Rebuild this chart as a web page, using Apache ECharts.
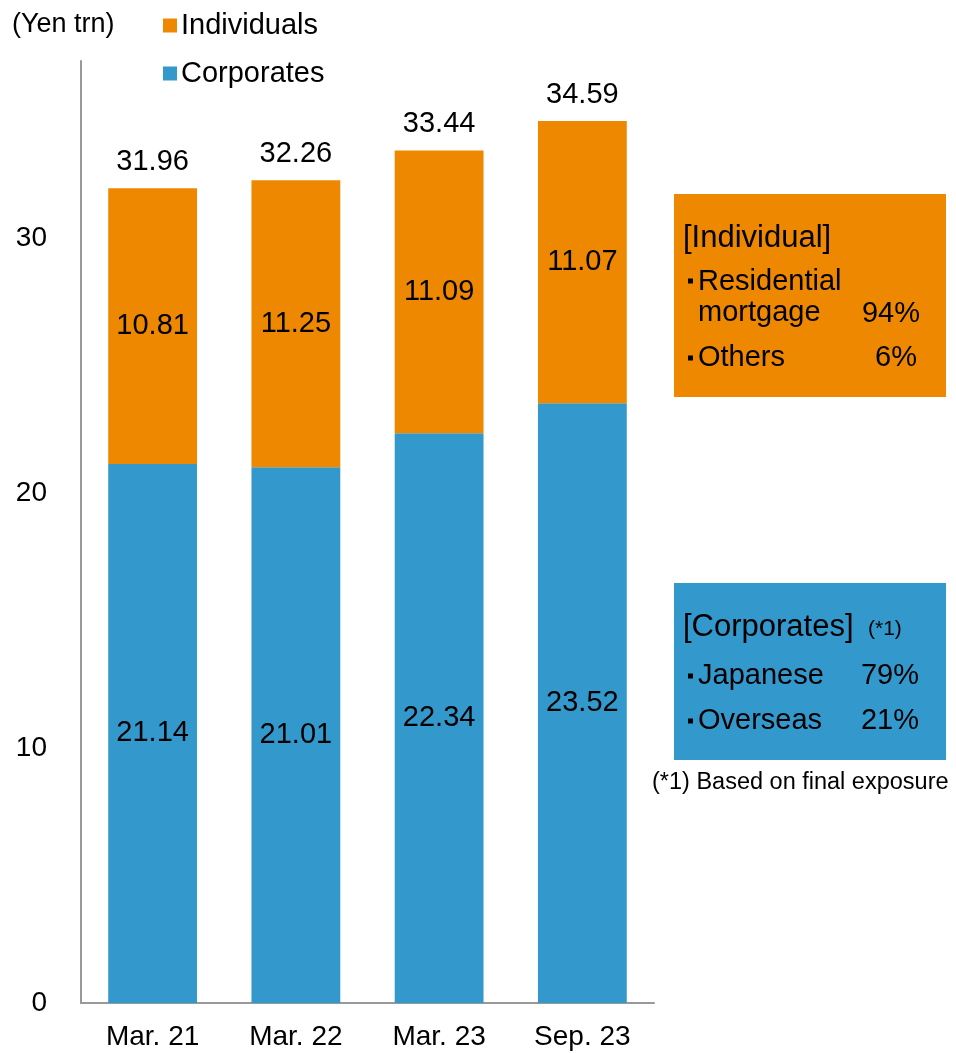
<!DOCTYPE html>
<html>
<head>
<meta charset="utf-8">
<script src="https://cdn.jsdelivr.net/npm/echarts@6/dist/echarts.min.js"></script>
<style>
html,body{margin:0;padding:0;background:#fff;}
#tu_1{width:956px;height:1053px;}
</style>
</head>
<body>
<div id="tu_1"></div>
<script>
var categories = ['Mar. 21', 'Mar. 22', 'Mar. 23', 'Sep. 23'];
var corporates = [21.14, 21.01, 22.34, 23.52];
var individuals = [10.81, 11.25, 11.09, 11.07];
var totals = [31.96, 32.26, 33.44, 34.59];
var yTicks = [0, 10, 20, 30];

var FONT = '"Liberation Sans", Arial, sans-serif';
var ORANGE = '#EE8800';
var BLUE = '#3399CC';

var myChart_1 = echarts.init(document.getElementById('tu_1'));

// text helper for the side boxes
function txt(x, y, s, size, align){
	return {
		type: 'text', x: x, y: y,
		style: {text: s, fill: '#000', font: size + 'px ' + FONT, textAlign: align || 'left', textVerticalAlign: 'middle'}
	};
}
function bullet(x, y){
	return {type: 'rect', shape: {x: x, y: y - 2.5, width: 5, height: 5}, style: {fill: '#000'}};
}
function fmt(p){ return Number(p.value).toFixed(2); }

var option = {
	animation: false,
	textStyle: {fontFamily: FONT},
	grid: {left: 81, right: 302, top: 61, bottom: 50},
	legend: {
		orient: 'vertical',
		left: 158, top: 6,
		itemWidth: 14, itemHeight: 14, itemGap: 19,
		icon: 'rect',
		data: ['Individuals', 'Corporates'],
		textStyle: {fontSize: 29, color: '#000', fontFamily: FONT, padding: [0, 0, 0, -1]}
	},
	xAxis: {
		type: 'category',
		data: categories,
		axisLine: {lineStyle: {color: '#999', width: 2}},
		axisTick: {show: false},
		axisLabel: {fontSize: 28, color: '#000', margin: 20, fontFamily: FONT}
	},
	yAxis: {
		type: 'value',
		min: yTicks[0], max: 36.94, interval: 10,
		axisLine: {show: true, lineStyle: {color: '#999', width: 2}},
		axisTick: {show: false},
		splitLine: {show: false},
		axisLabel: {fontSize: 28, color: '#000', margin: 34, showMaxLabel: false, fontFamily: FONT}
	},
	series: [
		{
			name: 'Corporates', type: 'bar', stack: 'total', barWidth: '62%',
			itemStyle: {color: BLUE},
			label: {show: true, position: 'inside', fontSize: 29, color: '#000', fontFamily: FONT, formatter: fmt},
			data: corporates
		},
		{
			name: 'Individuals', type: 'bar', stack: 'total', barWidth: '62%',
			itemStyle: {color: ORANGE},
			label: {show: true, position: 'inside', fontSize: 29, color: '#000', fontFamily: FONT, formatter: fmt},
			data: individuals
		},
		{
			name: 'Total', type: 'scatter', symbolSize: 1, silent: true,
			itemStyle: {color: 'rgba(0,0,0,0)', opacity: 1},
			label: {show: true, position: 'top', distance: 11, fontSize: 29, color: '#000', opacity: 1, fontFamily: FONT, formatter: fmt},
			data: totals
		}
	],
	graphic: [
		txt(12, 25, '(Yen trn)', 27),
		{type: 'rect', shape: {x: 674, y: 194, width: 272, height: 203}, style: {fill: ORANGE}},
		txt(683, 238, '[Individual]', 31),
		bullet(688, 281), txt(698, 282, 'Residential', 29),
		txt(698, 313, 'mortgage', 29), txt(920, 314, '94%', 29, 'right'),
		bullet(688, 358), txt(698, 358, 'Others', 29), txt(917, 358, '6%', 29, 'right'),
		{type: 'rect', shape: {x: 674, y: 583, width: 272, height: 177}, style: {fill: BLUE}},
		txt(683, 627, '[Corporates]', 31), txt(868, 629, '(*1)', 21),
		bullet(688, 676), txt(698, 676, 'Japanese', 29), txt(919, 676, '79%', 29, 'right'),
		bullet(688, 721), txt(698, 721, 'Overseas', 29), txt(919, 721, '21%', 29, 'right'),
		txt(652, 783, '(*1) Based on final exposure', 23.5)
	]
};
myChart_1.setOption(option);
</script>
</body>
</html>
